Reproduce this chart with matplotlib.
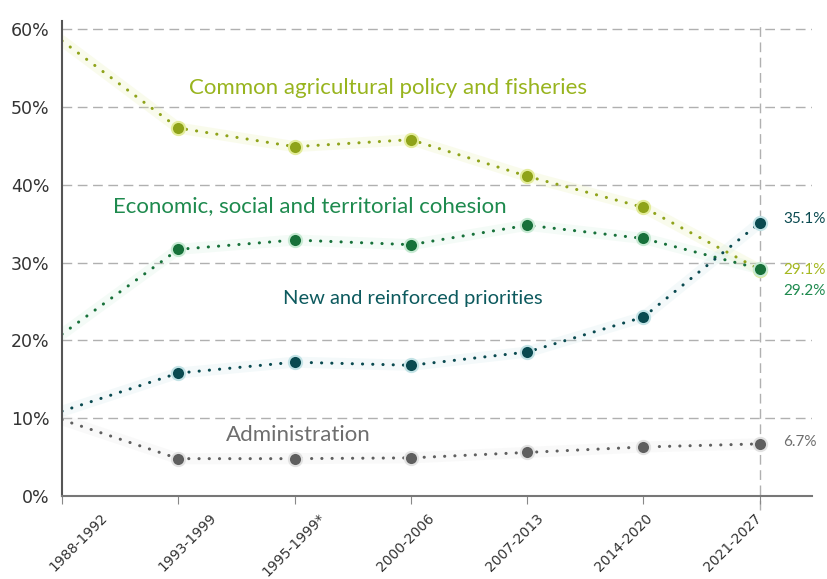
import matplotlib.pyplot as plt
import matplotlib.transforms as mtransforms
import numpy as np

periods = ["1988-1992", "1993-1999", "1995-1999*", "2000-2006", "2007-2013", "2014-2020", "2021-2027"]

cap = [58.5, 47.3, 44.9, 45.8, 41.1, 37.1, 29.1]
cohesion = [20.8, 31.7, 32.9, 32.3, 34.8, 33.1, 29.2]
new_prio = [10.9, 15.8, 17.2, 16.8, 18.5, 23.0, 35.1]
admin = [9.8, 4.8, 4.8, 4.9, 5.6, 6.3, 6.7]

end_labels = ["29.1%", "29.2%", "35.1%", "6.7%"]

c_cap = "#8fa31a"
c_coh = "#17713a"
c_new = "#0a4a50"
c_adm = "#5f5f5f"

plt.rcParams['font.family'] = ['Lato', 'DejaVu Sans']

fig = plt.figure(figsize=(8.28, 5.79), dpi=100)
ax = fig.add_axes([62 / 828, 1 - 496 / 579, 750 / 828, (496 - 21.4) / 579])

x = np.arange(len(periods))

# dashed gridlines
for v in range(10, 61, 10):
    ax.axhline(v, color="#b0b0b0", lw=1, ls=(0, (7, 4)), zorder=0)
ax.axvline(6, color="#b0b0b0", lw=1, ls=(0, (7, 4)), zorder=0, ymin=-0.03, clip_on=False)

series = [(cap, c_cap, "#e3ec9a"), (cohesion, c_coh, "#c7ead3"),
          (new_prio, c_new, "#c3e3e6"), (admin, c_adm, "#e2e2e2")]
for vals, col, halo in series:
    ax.plot(x, vals, color=halo, lw=8, alpha=0.18, solid_capstyle="round", zorder=1)
    ax.plot(x, vals, color=col, lw=2.2, ls=(0, (0.05, 3.3)), dash_capstyle="round", zorder=2)
    ax.plot(x[1:], vals[1:], "o", color=col, ms=9.5, mec=halo, mew=1.5, zorder=3)

# series names
ax.text(2.8, 52.5, "Common agricultural policy and fisheries", color="#98b41e", fontsize=16, ha="center", va="center")
ax.text(2.13, 37.2, "Economic, social and territorial cohesion", color="#1e8a4e", fontsize=16, ha="center", va="center")
ax.text(3.02, 25.4, "New and reinforced priorities", color="#0d5a5e", fontsize=14.5, ha="center", va="center")
ax.text(2.03, 7.8, "Administration", color="#6e6e6e", fontsize=16, ha="center", va="center")

# end values
ax.text(6.2, 29.0, end_labels[0], color="#a5b820", fontsize=11, va="center")
ax.text(6.2, 26.3, end_labels[1], color="#1e8a4e", fontsize=11, va="center")
ax.text(6.2, 35.6, end_labels[2], color=c_new, fontsize=11, va="center")
ax.text(6.2, 7.0, end_labels[3], color="#6e6e6e", fontsize=11, va="center")

ax.set_xlim(0, 6.45)
ax.set_ylim(0, 61)
ax.set_yticks(range(0, 61, 10))
ax.set_yticklabels([f"{v}%" for v in range(0, 61, 10)], fontsize=12.5, color="#333333", family="DejaVu Sans")
ax.set_xticks(x)
ax.set_xticklabels([])

# period labels, slanted and shifted a little to the right of each tick
base = mtransforms.blended_transform_factory(ax.transData, ax.transAxes)
for i, p in enumerate(periods):
    off = mtransforms.ScaledTranslation((38 - 7.2 * i) / 100, -15 / 100, fig.dpi_scale_trans)
    ax.text(x[i], 0, p, transform=base + off, rotation=45, ha="right", va="top",
            rotation_mode="anchor", fontsize=10, color="#333333", family="DejaVu Sans")

ax.tick_params(axis="x", length=6, color="#888888")
ax.tick_params(axis="y", length=0, pad=9)

for s in ["top", "right"]:
    ax.spines[s].set_visible(False)
ax.spines["left"].set_color("#555555")
ax.spines["left"].set_linewidth(1.5)
ax.spines["bottom"].set_color("#777777")
ax.spines["bottom"].set_linewidth(1.5)

fig.savefig("out.png", dpi=100)
